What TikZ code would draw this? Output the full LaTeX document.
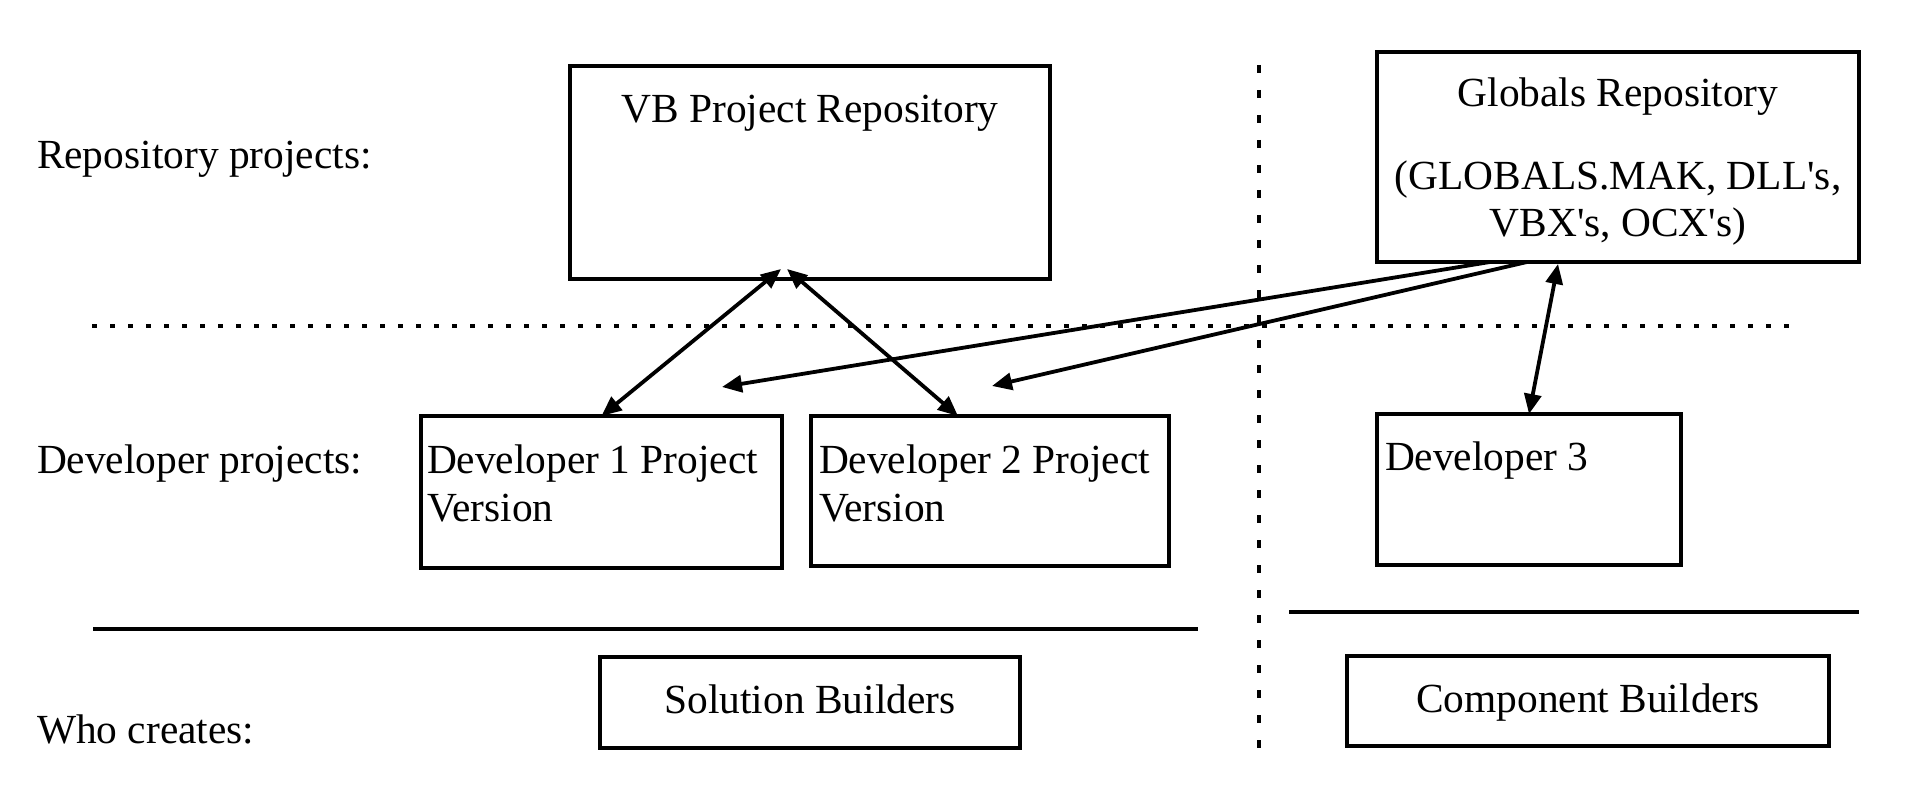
\documentclass[tikz,border=0pt]{standalone}
\usepackage{fontspec}
\setmainfont{Liberation Serif}[Ligatures=TeXOff]
\usetikzlibrary{arrows.meta}
\begin{document}
\begin{tikzpicture}[x=0.5pt,y=-0.5pt,
  txt/.style={font=\fontsize{20.7pt}{24pt}\selectfont, inner sep=0pt, outer sep=0pt},
  pxbox/.style 2 args={draw, line width=1.6pt, inner sep=0pt, outer sep=0pt,
     minimum width=#1*0.5pt, minimum height=#2*0.5pt},
  arr/.style={line width=1.9pt, -{Triangle[length=10pt,width=8.5pt]}},
  darr/.style={line width=1.9pt, {Triangle[length=10pt,width=8.5pt]}-{Triangle[length=10pt,width=8.5pt]}},
  dotline/.style={line width=1.7pt},
  rule/.style={line width=1.6pt}]
\useasboundingbox (0,0) rectangle (1925,812);

% boxes
\node[pxbox={480}{213}] (vb) at (810,172.5) {};
\node[pxbox={482}{210}] (glob) at (1618,157) {};
\node[pxbox={361}{152}] (dev1) at (601.5,492) {};
\node[pxbox={358}{150}] (dev2) at (990,491) {};
\node[pxbox={304}{151}] (dev3) at (1529,489.5) {};
\node[pxbox={420}{91}] (sol) at (810,702.5) {};
\node[pxbox={482}{90}] (comp) at (1588,701) {};

% texts in boxes
\node[txt, anchor=base] (vbt) at (810,123) {VB Project Repository};
\node[txt, anchor=base] (gt1) at (1618,107) {Globals Repository};
\node[txt, anchor=base] (gt2) at (1618,190) {(GLOBALS.MAK, DLL's,};
\node[txt, anchor=base] (gt3) at (1618,237) {VBX's, OCX's)};
\node[txt, anchor=base west] (d1a) at (427,473) {Developer 1 Project};
\node[txt, anchor=base west] (d1b) at (427,521) {Version};
\node[txt, anchor=base west] (d2a) at (819,473) {Developer 2 Project};
\node[txt, anchor=base west] (d2b) at (819,521) {Version};
\node[txt, anchor=base west] (d3) at (1385,470) {Developer 3};
\node[txt, anchor=base] (solt) at (810,713) {Solution Builders};
\node[txt, anchor=base] (compt) at (1588,712) {Component Builders};

% row labels
\node[txt, anchor=base west] (l1) at (37,169) {Repository projects:};
\node[txt, anchor=base west] (l2) at (37,473) {Developer projects:};
\node[txt, anchor=base west] (l3) at (37,743) {Who creates:};

% separators
\draw[dotline, dash pattern=on 2.5pt off 6.5pt] (92,326) -- (1790,326);
\draw[dotline, dash pattern=on 4pt off 8.5pt] (1259,65) -- (1259,752);
\draw[rule] (93,629) -- (1198,629);
\draw[rule] (1289,612) -- (1859,612);

% free arrow ends
\coordinate (t1) at (722,387);
\coordinate (t2) at (992,386);

% arrows
\draw[darr] ([xshift=-29*0.5pt,yshift=10*0.5pt]vb.south) -- (dev1.north);
\draw[darr] ([xshift=-23*0.5pt,yshift=10*0.5pt]vb.south) -- ([xshift=-32*0.5pt]dev2.north);
\draw[arr] ([xshift=-128*0.5pt]glob.south) -- (t1);
\draw[arr] ([xshift=-91*0.5pt]glob.south) -- (t2);
\draw[darr] ([xshift=-60*0.5pt,yshift=-2*0.5pt]glob.south) -- (dev3.north);
\end{tikzpicture}
\end{document}
